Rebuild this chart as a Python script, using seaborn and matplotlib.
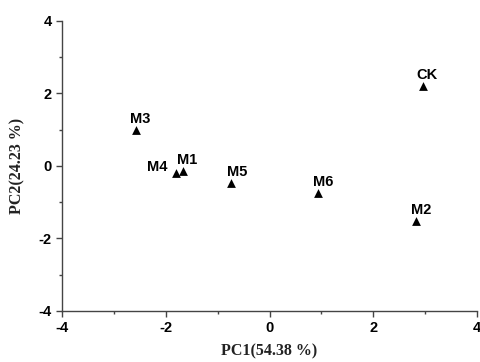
import matplotlib
matplotlib.use('Agg')
import matplotlib.pyplot as plt
from matplotlib.ticker import MultipleLocator
import pandas as pd
import seaborn as sns

# PCA scores
samples = ['CK', 'M1', 'M2', 'M3', 'M4', 'M5', 'M6']
pc1 = [2.96, -1.67, 2.83, -2.58, -1.81, -0.75, 0.94]
pc2 = [2.21, -0.15, -1.51, 0.99, -0.19, -0.47, -0.75]
# label offsets in points (dx, dy)
offsets = {'CK': (-5, 3), 'M1': (-4, 3), 'M2': (-4, 3), 'M3': (-4, 3),
           'M4': (-21, -1), 'M5': (-3, 3), 'M6': (-4, 3)}

df = pd.DataFrame({'sample': samples, 'PC1': pc1, 'PC2': pc2})

sns.set_style('ticks')
plt.rcParams['axes.unicode_minus'] = False
fig = plt.figure(figsize=(4.81, 3.62), dpi=100)
ax = fig.add_axes([0.129, 0.141, 0.863, 0.801])

sns.scatterplot(data=df, x='PC1', y='PC2', marker='^', color='black',
                s=40, edgecolor='black', linewidth=0, ax=ax)

for name, x, y in zip(samples, pc1, pc2):
    dx, dy = offsets[name]
    ax.annotate(name, (x, y), xytext=(dx, dy), textcoords='offset points',
                fontsize=10.5, fontweight='bold', family='Liberation Sans',
                color='black', ha='left', va='bottom')

ax.set_xlim(-4, 4)
ax.set_ylim(-4, 4)
ax.xaxis.set_major_locator(MultipleLocator(2))
ax.xaxis.set_minor_locator(MultipleLocator(1))
ax.yaxis.set_major_locator(MultipleLocator(2))
ax.yaxis.set_minor_locator(MultipleLocator(1))
ax.tick_params(which='major', length=4, width=1, direction='out',
               color='#444444', labelcolor='black')
ax.tick_params(which='minor', length=2.5, width=1, direction='out', color='#444444')
for lab in ax.get_xticklabels() + ax.get_yticklabels():
    lab.set_fontweight('bold')
    lab.set_family('Liberation Sans')
    lab.set_fontsize(10.5)

sns.despine(ax=ax)
for sp in ['left', 'bottom']:
    ax.spines[sp].set_color('#444444')
    ax.spines[sp].set_linewidth(1)

ax.set_xlabel('PC1(54.38 %)', fontsize=11.5, fontweight='bold',
              family='Liberation Serif', color='#222222', labelpad=6)
ax.set_ylabel('PC2(24.23 %)', fontsize=11.5, fontweight='bold',
              family='Liberation Serif', color='#222222', labelpad=9)

plt.savefig('out.png', dpi=100)
